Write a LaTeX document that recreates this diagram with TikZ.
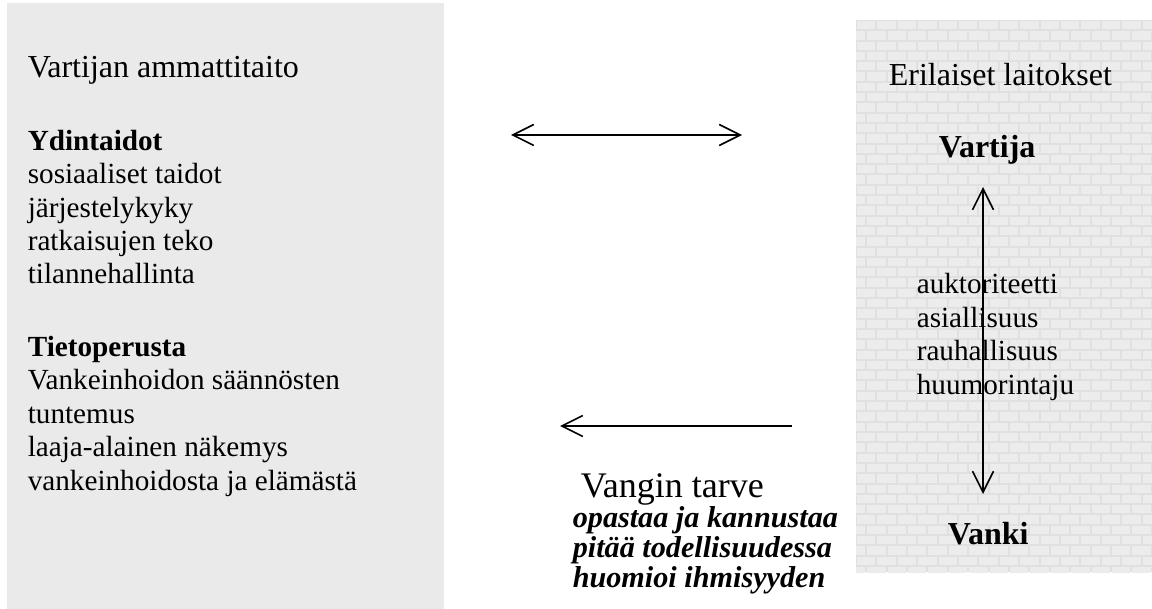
\documentclass[tikz,border=0pt]{standalone}
\usepackage{fontspec}
\setmainfont{Liberation Serif}
\usepackage{tikz}
\usetikzlibrary{positioning}
\usetikzlibrary{arrows.meta}
\definecolor{panelgray}{RGB}{234,234,234}
\definecolor{brickgray}{RGB}{236,236,236}
\definecolor{mortargray}{RGB}{224,224,224}
\tikzset{txt node/.style={anchor=base west,inner sep=0pt,align=left,font=\fontsize{14.6}{16.7}\selectfont},
  title node/.style={txt node,font=\fontsize{16}{19}\selectfont},
  head node/.style={txt node,font=\fontsize{16}{19}\selectfont\bfseries},}

\begin{document}
\begin{tikzpicture}[x=0.5pt, y=-0.5pt, >={Straight Barb[length=10.5pt,width=10.5pt]}, line width=0.8pt]
	\useasboundingbox (0,0) rectangle (1152,609);
	\fill[panelgray] (7,3) rectangle (444,609);
	% brick wall
	\fill[mortargray] (856,20) rectangle (1152,572);
	\begin{scope}
		\clip (856,20) rectangle (1152,572);
		\foreach \r in {0,...,53} {
			\pgfmathsetmacro{\brickoff}{mod(\r,2)*10.2}
			\foreach \c in {-1,...,14}
				\fill[brickgray] ({856+\brickoff+\c*20.4+1},{20+\r*10.3+1}) rectangle ++(18.4,8.3);
		}
	\end{scope}

	% multi-line nodes sit on the baseline of their last line
	\node[title node] (skill) at (27,78) {Vartijan ammattitaito};
	\node[txt node] (core) at (27,284) {\textbf{Ydintaidot}\\sosiaaliset taidot\\järjestelykyky\\ratkaisujen teko\\tilannehallinta};
	\node[txt node] (know) at (27,490) {\textbf{Tietoperusta}\\Vankeinhoidon säännösten\\tuntemus\\laaja-alainen näkemys\\vankeinhoidosta ja elämästä};

	\node[title node] (inst) at (888,86) {Erilaiset laitokset};
	\node[head node] (guard) at (938,158) {Vartija};
	\node[txt node] (traits) at (916,394) {auktoriteetti\\asiallisuus\\rauhallisuus\\huumorintaju};
	\node[head node] (prisoner) at (947,544) {Vanki};
	\coordinate (up) at (983,187);
	\coordinate (down) at (983,494);

	\node[txt node, font=\fontsize{18}{21}\selectfont] (need) at (580,497) {Vangin tarve};
	\node[txt node, font=\fontsize{15.1}{15}\selectfont\bfseries\itshape] (needlist) at (572,587) {opastaa ja kannustaa\\pitää todellisuudessa\\huomioi ihmisyyden};

	\coordinate (pairL) at (511,135);
	\coordinate (pairR) at (742,135);
	\coordinate (needR) at (792,426);
	\coordinate (needL) at (560,426);

	\draw[<->] (pairL) -- (pairR);
	\draw[->] (needR) -- (needL);
	\draw[<->] (up) -- (down);
\end{tikzpicture}
\end{document}
